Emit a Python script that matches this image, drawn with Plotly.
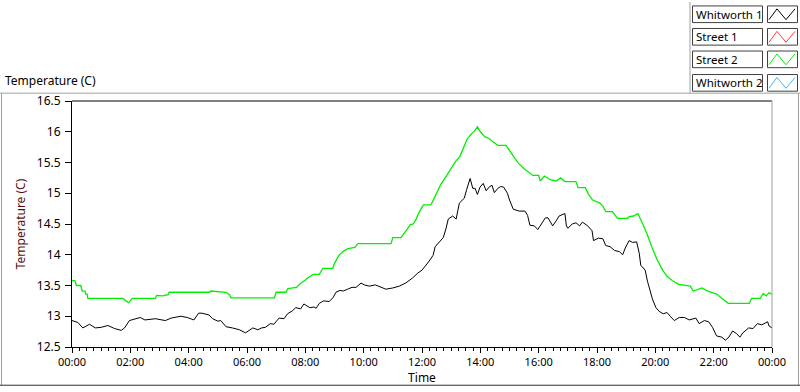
import pandas as pd
import plotly.graph_objects as go

# ---------------- data (hours after midnight, temperature in C) ----------------
w1_hours = [0, 0.2, 0.37, 0.6, 0.8, 1.0, 1.23, 1.46, 1.69, 1.8, 1.97, 2.17, 2.34, 2.5, 2.86, 3.2, 3.4,
            3.73, 3.95, 4.18, 4.34, 4.45, 4.6, 4.7, 4.82, 5.0, 5.1, 5.28, 5.5, 5.74, 5.95, 6.08, 6.2,
            6.37, 6.5, 6.63, 6.8, 6.92, 7.1, 7.27, 7.39, 7.56, 7.67, 7.84, 7.95, 8.15, 8.3, 8.37, 8.48,
            8.62, 8.82, 8.96, 9.05, 9.19, 9.3, 9.45, 9.6, 9.74, 9.91, 10.02, 10.2, 10.4, 10.6, 10.76,
            11.0, 11.22, 11.44, 11.67, 11.85, 12.0, 12.22, 12.38, 12.45, 12.6, 12.73, 12.82, 12.9,
            13.05, 13.17, 13.28, 13.45, 13.53, 13.65, 13.74, 13.82, 13.9, 13.99, 14.1, 14.2, 14.3,
            14.4, 14.48, 14.6, 14.7, 14.8, 14.93, 15.0, 15.13, 15.33, 15.53, 15.62, 15.7, 15.85,
            15.97, 16.08, 16.23, 16.32, 16.48, 16.6, 16.7, 16.9, 16.95, 17.0, 17.15, 17.28, 17.4,
            17.5, 17.68, 17.83, 17.88, 18.05, 18.2, 18.3, 18.45, 18.6, 18.77, 18.88, 18.97, 19.1,
            19.22, 19.36, 19.45, 19.5, 19.65, 19.73, 19.81, 19.9, 20.02, 20.13, 20.27, 20.4, 20.53,
            20.65, 20.82, 21.0, 21.16, 21.39, 21.5, 21.68, 21.83, 21.96, 22.1, 22.28, 22.4, 22.52,
            22.65, 22.78, 22.9, 23.0, 23.2, 23.35, 23.5, 23.65, 23.85, 23.9, 24.0]
w1_temp = [12.93, 12.90, 12.81, 12.87, 12.81, 12.82, 12.85, 12.80, 12.77, 12.81, 12.93, 12.96, 12.98,
           12.94, 12.96, 12.93, 12.97, 13.00, 12.98, 12.94, 13.05, 13.05, 13.03, 13.02, 12.96, 12.92,
           12.93, 12.83, 12.81, 12.78, 12.73, 12.77, 12.81, 12.78, 12.81, 12.82, 12.88, 12.87, 12.97,
           12.96, 13.04, 13.09, 13.14, 13.12, 13.20, 13.14, 13.15, 13.13, 13.21, 13.25, 13.24, 13.31,
           13.39, 13.42, 13.41, 13.44, 13.47, 13.47, 13.54, 13.51, 13.49, 13.51, 13.47, 13.44, 13.46,
           13.49, 13.54, 13.62, 13.70, 13.75, 13.88, 13.99, 14.13, 14.21, 14.28, 14.42, 14.58, 14.63,
           14.58, 14.84, 14.92, 15.06, 15.24, 15.08, 15.08, 14.98, 15.10, 15.16, 15.04, 15.10, 15.13,
           15.01, 15.08, 15.11, 15.10, 15.00, 14.89, 14.74, 14.71, 14.71, 14.64, 14.48, 14.47, 14.41,
           14.50, 14.60, 14.60, 14.47, 14.55, 14.63, 14.67, 14.47, 14.43, 14.50, 14.52, 14.47, 14.53,
           14.47, 14.39, 14.23, 14.27, 14.26, 14.15, 14.13, 14.07, 14.05, 14.00, 14.11, 14.23, 14.20,
           14.21, 14.02, 13.83, 13.75, 13.57, 13.41, 13.28, 13.14, 13.08, 13.04, 13.06, 12.99, 12.93,
           12.98, 12.98, 12.94, 12.97, 12.88, 12.93, 12.91, 12.82, 12.68, 12.66, 12.61, 12.66, 12.76,
           12.72, 12.66, 12.73, 12.81, 12.80, 12.88, 12.86, 12.91, 12.84, 12.81]

s2_hours = [0.0, 0.1, 0.15, 0.3, 0.35, 0.45, 0.47, 0.52, 0.54, 1.74, 1.85, 1.94, 2.0, 2.06, 2.86, 2.9,
            3.1, 3.3, 3.33, 4.71, 4.75, 5.0, 5.28, 5.4, 5.45, 6.94, 7.0, 7.34, 7.4, 7.7, 7.8, 8.0, 8.1,
            8.27, 8.48, 8.6, 8.94, 9.0, 9.15, 9.31, 9.46, 9.7, 9.8, 10.94, 11.0, 11.28, 11.35, 11.5,
            11.6, 11.7, 11.8, 11.9, 12.05, 12.3, 12.4, 12.5, 12.65, 12.85, 13.0, 13.14, 13.3, 13.43,
            13.55, 13.7, 13.8, 13.9, 14.0, 14.15, 14.3, 14.45, 14.6, 14.88, 15.0, 15.15, 15.3, 15.5,
            15.8, 16.0, 16.05, 16.2, 16.4, 16.6, 16.75, 16.9, 17.28, 17.35, 17.6, 17.7, 17.85, 18.1,
            18.2, 18.3, 18.53, 18.7, 19.05, 19.1, 19.25, 19.4, 19.57, 19.74, 19.9, 20.07, 20.25, 20.4,
            20.58, 20.8, 21.2, 21.3, 21.6, 21.8, 22.1, 22.3, 22.5, 23.22, 23.3, 23.6, 23.7, 23.8, 23.9,
            24.0]
s2_temp = [13.58, 13.58, 13.50, 13.50, 13.41, 13.41, 13.36, 13.36, 13.29, 13.29, 13.25, 13.22, 13.25,
           13.29, 13.29, 13.34, 13.33, 13.35, 13.39, 13.39, 13.41, 13.40, 13.39, 13.35, 13.30, 13.30,
           13.39, 13.39, 13.45, 13.47, 13.52, 13.59, 13.63, 13.68, 13.68, 13.78, 13.78, 13.86, 13.99,
           14.06, 14.10, 14.12, 14.18, 14.18, 14.28, 14.28, 14.32, 14.42, 14.49, 14.50, 14.58, 14.69,
           14.81, 14.81, 14.90, 15.00, 15.15, 15.29, 15.40, 15.51, 15.60, 15.75, 15.88, 15.97, 16.01,
           16.08, 16.00, 15.92, 15.89, 15.83, 15.78, 15.78, 15.69, 15.59, 15.49, 15.40, 15.29, 15.29,
           15.20, 15.28, 15.22, 15.20, 15.25, 15.19, 15.19, 15.09, 15.09, 14.99, 14.89, 14.84, 14.79,
           14.70, 14.70, 14.59, 14.59, 14.62, 14.63, 14.67, 14.50, 14.31, 14.10, 13.91, 13.75, 13.65,
           13.58, 13.52, 13.49, 13.41, 13.46, 13.41, 13.36, 13.29, 13.21, 13.21, 13.29, 13.29, 13.37,
           13.33, 13.38, 13.36]

series_names = ["Whitworth 1", "Street 1", "Street 2", "Whitworth 2"]
series_colors = ["#000000", "#ff3c3c", "#00f000", "#3cb4ff"]
y_ticks = [12.5, 13, 13.5, 14, 14.5, 15, 15.5, 16, 16.5]
y_tick_text = ["12.5", "13", "13.5", "14", "14.5", "15", "15.5", "16", "16.5"]

# ---------------- figure ----------------
base = pd.Timestamp("2000-01-01 00:00:00")
def to_time(hours):
    return [base + pd.Timedelta(hours=h) for h in hours]

W, H = 800, 392
L, R, T, B = 72, 772, 101, 352   # plot area in pixels
FONT = "Noto Sans"

def px(x):
    return (x - L) / (R - L)

def py(y):
    return (B - y) / (B - T)

fig = go.Figure()
fig.add_trace(go.Scatter(x=to_time(w1_hours), y=w1_temp, mode="lines", name=series_names[0],
                         line=dict(color=series_colors[0], width=1)))
fig.add_trace(go.Scatter(x=to_time(s2_hours), y=s2_temp, mode="lines", name=series_names[2],
                         line=dict(color=series_colors[2], width=1.3)))

fig.update_layout(
    width=W, height=H, autosize=False,
    margin=dict(l=L, r=W - R, t=T, b=H - B, pad=0),
    paper_bgcolor="white", plot_bgcolor="white",
    showlegend=False,
    font=dict(family=FONT, size=11, color="black"),
)

fig.update_xaxes(
    type="date", range=[base, base + pd.Timedelta(hours=24)],
    tick0=base, dtick=2 * 3600 * 1000, tickformat="%H:%M",
    ticks="outside", ticklen=5, tickcolor="black", tickwidth=1,
    showline=True, linecolor="black", linewidth=1, showgrid=False, zeroline=False,
    minor=dict(dtick=15 * 60 * 1000, ticks="outside", ticklen=3, tickcolor="black", showgrid=False),
    title=dict(text="Time", standoff=2, font=dict(size=12)),
    tickfont=dict(size=11),
)
fig.update_yaxes(
    range=[12.5, 16.5], tickvals=y_ticks, ticktext=y_tick_text,
    ticks="outside", ticklen=6, tickcolor="black", tickwidth=1,
    showline=True, linecolor="black", linewidth=1, showgrid=False, zeroline=False,
    title=dict(text="Temperature (C)", standoff=8, font=dict(size=12, color="#5a1010")),
    tickfont=dict(size=12), ticklabelstandoff=2,
)

shapes = []
gray = "#a0a0a0"
# plot frame top (black) and right (gray)
shapes.append(dict(type="line", xref="paper", yref="paper", x0=0, x1=1, y0=1, y1=1,
                   line=dict(color="black", width=1)))
shapes.append(dict(type="line", xref="paper", yref="paper", x0=1, x1=1, y0=0, y1=1,
                   line=dict(color=gray, width=1)))
# outer panel frame
shapes.append(dict(type="line", xref="paper", yref="paper", x0=px(0), x1=px(800), y0=py(93), y1=py(93),
                   line=dict(color=gray, width=1)))
shapes.append(dict(type="line", xref="paper", yref="paper", x0=px(690), x1=px(690), y0=py(0), y1=py(93),
                   line=dict(color=gray, width=1)))
shapes.append(dict(type="line", xref="paper", yref="paper", x0=px(1.5), x1=px(1.5), y0=py(93), y1=py(391),
                   line=dict(color=gray, width=1)))
shapes.append(dict(type="line", xref="paper", yref="paper", x0=px(798.5), x1=px(798.5), y0=py(93), y1=py(391),
                   line=dict(color=gray, width=1)))
shapes.append(dict(type="line", xref="paper", yref="paper", x0=px(0), x1=px(800), y0=py(391), y1=py(391),
                   line=dict(color="#303030", width=1)))

annotations = [dict(text="Temperature (C)", xref="paper", yref="paper", x=px(3), y=py(80),
                    xanchor="left", yanchor="middle", showarrow=False, font=dict(size=12, color="black"))]

# custom legend
row_tops = [4, 27, 50, 74]
for name, color, top in zip(series_names, series_colors, row_tops):
    bot = top + 17
    shapes.append(dict(type="rect", xref="paper", yref="paper", x0=px(692.5), x1=px(762.5),
                       y0=py(bot), y1=py(top), line=dict(color="#404040", width=1), fillcolor="white"))
    shapes.append(dict(type="rect", xref="paper", yref="paper", x0=px(767.5), x1=px(797.5),
                       y0=py(bot), y1=py(top), line=dict(color="#404040", width=1), fillcolor="white"))
    zx = [769, 777, 786, 795]
    zy = [bot - 3, top + 3, bot - 3, top + 3]
    path = "M " + " L ".join(f"{px(a):.5f},{py(b):.5f}" for a, b in zip(zx, zy))
    shapes.append(dict(type="path", xref="paper", yref="paper", path=path,
                       line=dict(color=color, width=1)))
    annotations.append(dict(text=name, xref="paper", yref="paper", x=px(694), y=py(top + 8.5),
                            xanchor="left", yanchor="middle", showarrow=False,
                            font=dict(size=11.5, color="black")))

fig.update_layout(shapes=shapes, annotations=annotations)
fig.write_html("out.html", config={"displayModeBar": False},
               post_script="document.body.style.margin='0px';document.body.style.padding='0px';")
